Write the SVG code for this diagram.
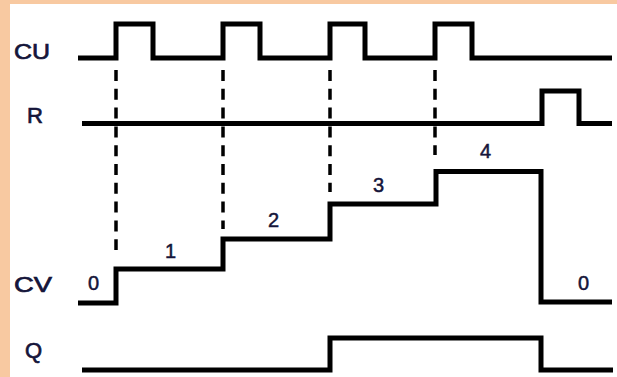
<svg xmlns="http://www.w3.org/2000/svg" width="617" height="377" viewBox="0 0 617 377">
<style>
.bg{fill:#F8C9A1}
.panel{fill:#ffffff}
.sig{fill:none;stroke:#000;stroke-width:5;stroke-linejoin:miter;stroke-linecap:butt}
.dash{fill:none;stroke:#000;stroke-width:3.5;stroke-dasharray:11 7.8}
.lbl{font-family:"Liberation Sans",Arial,sans-serif;font-size:22px;fill:#15153a;stroke:#15153a;stroke-width:0.7}
.num{font-family:"Liberation Sans",Arial,sans-serif;font-size:20px;fill:#15153a;stroke:#15153a;stroke-width:0.5}
</style>
<rect class="bg" x="0" y="0" width="617" height="377"/>
<rect class="panel" x="10" y="4" width="607" height="373"/>
<g id="labels">
<text class="lbl" x="14" y="59" textLength="36" lengthAdjust="spacingAndGlyphs">CU</text>
<text class="lbl" x="27" y="123">R</text>
<text class="lbl" x="14" y="292" textLength="38" lengthAdjust="spacingAndGlyphs">CV</text>
<text class="lbl" x="25" y="358">Q</text>
</g>
<g id="connectors">
<line class="dash" x1="116" y1="70" x2="116" y2="250"/>
<line class="dash" x1="223" y1="70" x2="223" y2="229"/>
<line class="dash" x1="330" y1="70" x2="330" y2="192"/>
<line class="dash" x1="435" y1="70" x2="435" y2="155"/>
</g>
<g id="cu">
<polyline class="sig" points="78,58 116,58 116,24 153,24 153,58 223,58 223,24 260,24 260,58 330,58 330,24 365,24 365,58 435,58 435,24 472,24 472,58 612,58"/>
</g>
<g id="r">
<polyline class="sig" points="82,123.5 542,123.5 542,91 579,91 579,123.5 612,123.5"/>
</g>
<g id="cv">
<polyline class="sig" points="78,303 116,303 116,269 223,269 223,239 330,239 330,204 436,204 436,171.5 541,171.5 541,302 612,302"/>
<text class="num" x="88" y="290">0</text>
<text class="num" x="165" y="258">1</text>
<text class="num" x="268" y="227">2</text>
<text class="num" x="373" y="192">3</text>
<text class="num" x="480" y="158">4</text>
<text class="num" x="578" y="290">0</text>
</g>
<g id="q">
<polyline class="sig" points="82,370 330,370 330,338 541,338 541,370 613,370"/>
</g>
</svg>
